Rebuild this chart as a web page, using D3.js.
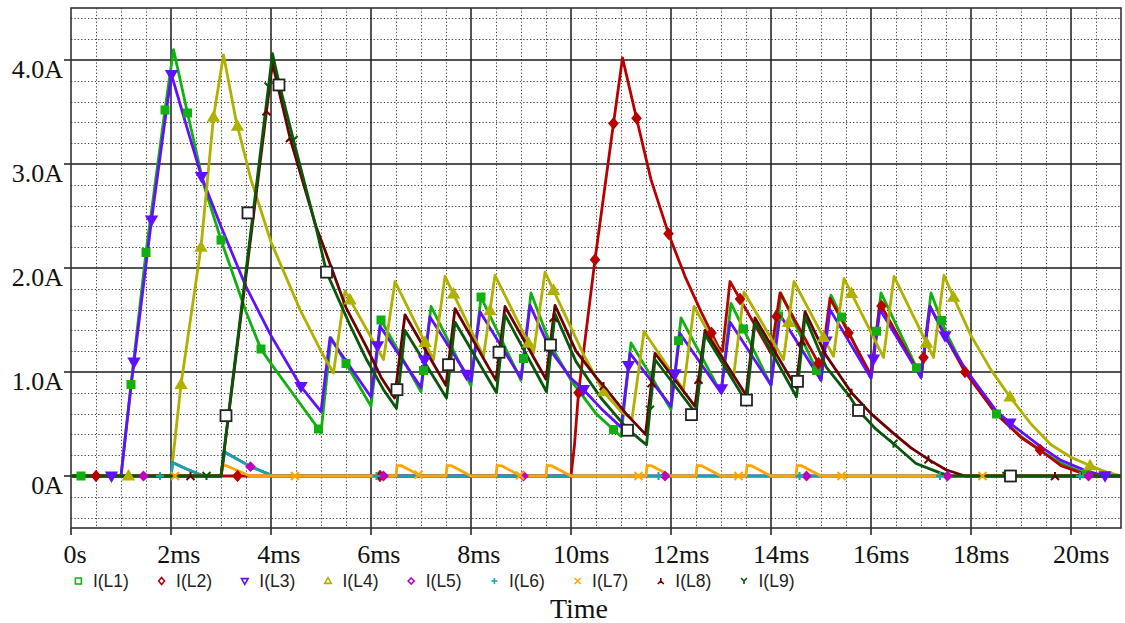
<!DOCTYPE html>
<html><head><meta charset="utf-8">
<script src="https://cdn.jsdelivr.net/npm/d3@7"></script>
<style>html,body{margin:0;padding:0;background:#fff;}svg{display:block}</style>
</head><body><svg id="c" width="1125" height="623"></svg>
<script>
// ---------- data (time in ms, current in A) ----------
const seriesNames = ["I(L1)","I(L2)","I(L3)","I(L4)","I(L5)","I(L6)","I(L7)","I(L8)","I(L9)"];
const seriesColors = ["#10b010","#b80000","#6010ff","#b0b000","#c000c0","#10a8a8","#ffa500","#6a0000","#0a560a"];
const xTickValues = [0,2,4,6,8,10,12,14,16,18,20];
const xTickLabels = ["0s","2ms","4ms","6ms","8ms","10ms","12ms","14ms","16ms","18ms","20ms"];
const yTickValues = [0,1,2,3,4];
const yTickLabels = ["0A","1.0A","2.0A","3.0A","4.0A"];

const L1 = [[0,0],[1.0,0],[1.2,0.88],[1.5,2.15],[1.88,3.52],[2.05,4.1],[2.33,3.49],[2.65,2.81],[3.0,2.27],[3.5,1.58],[3.8,1.22],[4.0,1.08],[4.5,0.75],[5.0,0.42],
  [5.2,1.33],[6.0,0.67],[6.2,1.5],[7.0,0.81],[7.2,1.63],[8.0,0.87],[8.2,1.72],[9.0,0.92],[9.2,1.76],[9.6,1.25],[10.0,0.92],[10.5,0.6],[11.0,0.38],
  [11.2,1.28],[12.0,0.64],[12.2,1.52],[13.0,0.8],[13.2,1.66],[14.0,0.87],[14.2,1.76],[15.0,0.92],[15.2,1.74],[16.0,0.94],[16.2,1.76],[17.0,0.95],[17.2,1.76],
  [17.5,1.38],[17.9,1.0],[18.5,0.6],[19.0,0.38],[19.4,0.24],[19.8,0.12],[20.2,0.04],[20.45,0],[21,0]];
const L2 = [[0,0],[10.0,0],[10.07,0.3],[10.15,0.8],[10.48,2.08],[10.85,3.39],[11.03,4.02],[11.31,3.44],[11.6,2.85],[11.95,2.33],[12.28,1.92],[12.6,1.58],[12.95,1.24],[13.03,1.2],
  [13.18,1.87],[14.0,1.18],[14.18,1.76],[15.0,1.04],[15.18,1.71],[16.0,0.97],[16.18,1.66],[17.0,0.95],[17.18,1.63],
  [17.5,1.33],[17.88,1.0],[18.5,0.6],[19.0,0.37],[19.38,0.25],[19.8,0.1],[20.2,0.03],[20.5,0],[21,0]];
const L3 = [[0,0],[1.0,0],[1.2,0.86],[1.61,2.46],[1.88,3.42],[2.01,3.86],[2.3,3.38],[2.61,2.88],[3.0,2.4],[3.5,1.82],[4.0,1.35],[4.6,0.86],[5.0,0.62],
  [5.18,1.33],[6.0,0.76],[6.18,1.44],[7.0,0.85],[7.18,1.53],[8.0,0.91],[8.18,1.58],[9.0,0.94],[9.18,1.64],[9.6,1.2],[10.0,0.94],[10.25,0.83],[10.6,0.65],[11.0,0.47],
  [11.18,1.18],[12.0,0.67],[12.18,1.37],[13.0,0.8],[13.18,1.48],[14.0,0.875],[14.18,1.55],[15.0,0.92],[15.18,1.6],[16.0,0.94],[16.18,1.6],[17.0,0.95],[17.18,1.63],
  [17.5,1.33],[17.9,1.02],[18.5,0.63],[18.8,0.5],[19.4,0.28],[19.8,0.15],[20.3,0.05],[20.7,0],[21,0]];
const L4 = [[0,0],[2.0,0],[2.2,0.88],[2.6,2.2],[2.85,3.45],[3.05,4.05],[3.3,3.42],[3.6,2.85],[4.0,2.25],[4.58,1.6],[5.0,1.2],[5.25,0.99],
  [5.48,1.78],[6.25,1.12],[6.48,1.87],[7.25,1.12],[7.48,1.92],[8.25,1.15],[8.48,1.93],[9.25,1.18],[9.48,1.96],[10.25,1.17],[10.65,0.81],[11.0,0.62],[11.22,0.55],
  [11.46,1.39],[12.25,0.83],[12.46,1.63],[13.25,0.95],[13.46,1.77],[14.25,1.12],[14.46,1.87],[15.25,1.15],[15.46,1.9],[16.25,1.14],[16.46,1.92],[17.25,1.14],[17.46,1.93],
  [17.65,1.72],[18.0,1.35],[18.4,1.02],[18.78,0.76],[19.2,0.5],[19.6,0.3],[20.0,0.18],[20.38,0.1],[20.7,0.04],[21,0]];
const L5 = [[0,0],[2.0,0],[2.03,0.13],[2.3,0.07],[2.65,0],[3.0,0],[3.07,0.23],[3.59,0.09],[4.05,0],[21,0]];
const L6 = [[0,0],[2.0,0],[2.03,0.13],[2.3,0.07],[2.65,0],[3.0,0],[3.07,0.23],[3.59,0.09],[4.05,0],[21,0]];
const L7 = [[0,0],[3.0,0],[3.05,0.11],[3.58,0],[6.5,0],[6.52,0.1],[6.6,0.1],[7.0,0],[7.5,0],[7.52,0.1],[7.6,0.1],[8.0,0],[8.5,0],[8.52,0.1],[8.6,0.1],[9.0,0],
  [9.5,0],[9.52,0.1],[9.6,0.1],[10.0,0],[11.5,0],[11.52,0.1],[11.6,0.1],[12.0,0],[12.5,0],[12.52,0.1],[12.6,0.1],[13.0,0],[13.5,0],[13.52,0.1],[13.6,0.1],[14.0,0],
  [14.5,0],[14.52,0.1],[14.6,0.1],[15.0,0],[21,0]];
const L8 = [[0,0],[3.0,0],[4.03,3.97],[4.38,3.25],[4.9,2.4],[5.08,2.17],[5.5,1.62],[5.91,1.24],[6.2,0.95],[6.47,0.75],
  [6.68,1.55],[7.5,0.87],[7.68,1.61],[8.5,0.92],[8.68,1.63],[9.5,0.93],[9.68,1.64],[10.1,1.2],[10.5,0.95],[10.71,0.83],[11.1,0.6],[11.49,0.4],
  [11.68,1.18],[12.48,0.67],[12.68,1.4],[13.5,0.78],[13.68,1.52],[14.5,0.85],[14.68,1.58],[15.1,1.16],[15.61,0.8],[16.0,0.6],[16.45,0.41],[16.8,0.27],[17.18,0.15],[17.5,0.06],[17.88,0],[21,0]];
const L9 = [[0,0],[3.0,0],[4.03,4.06],[4.16,3.78],[4.45,3.23],[4.91,2.37],[5.11,1.96],[5.58,1.45],[5.91,1.12],[6.25,0.83],[6.51,0.65],
  [6.68,1.4],[7.51,0.75],[7.68,1.48],[8.51,0.8],[8.68,1.55],[9.51,0.81],[9.68,1.56],[10.1,1.1],[10.6,0.75],[11.13,0.45],[11.51,0.3],
  [11.68,1.12],[12.5,0.6],[12.68,1.36],[13.51,0.71],[13.68,1.48],[14.51,0.76],[14.68,1.53],[15.1,1.05],[15.58,0.76],[15.75,0.63],[16.1,0.45],[16.45,0.31],[16.9,0.12],[17.38,0.03],[17.6,0],[21,0]];

// marker times on each trace (ms)
const M1 = [0.2,1.2,1.5,1.88,2.33,3.0,3.8,4.95,5.5,6.2,7.05,8.2,9.05,10.85,12.15,13.45,14.15,14.91,15.41,16.11,16.91,17.41,18.51,20.31];
const M2 = [0.5,3.33,6.18,10.15,10.48,10.85,11.31,11.95,12.81,13.38,14.11,14.95,15.55,16.21,17.05,17.88,19.38];
const M3 = [0.81,1.26,1.61,2.01,2.61,4.6,6.13,7.07,7.91,10.25,11.15,12.08,13.01,15.1,16.05,17.48,18.78,20.68];
const M4 = [1.15,2.2,2.6,2.85,3.33,5.58,7.08,7.65,8.38,9.15,9.65,10.65,14.35,15.05,15.61,17.11,17.65,18.78,20.38];
const M5 = [1.45,3.59,6.25,9.05,11.88,14.71,17.53,20.35];
const M6 = [1.78,6.11,11.75,14.57,17.38,20.18];
const M7 = [2.08,4.48,6.95,8.98,11.35,13.35,15.41,18.23];
const M8 = [2.39,3.91,4.38,7.55,9.65,10.65,11.61,12.55,14.61,15.61,17.15,19.68];
const M9 = [2.71,3.95,4.45,11.58,16.45,18.71];
// extra white square markers (t, I)
const whiteSquares = [[3.1,0.58],[3.54,2.53],[4.16,3.76],[5.11,1.96],[6.52,0.83],[7.55,1.07],[8.56,1.19],[9.59,1.26],[11.13,0.44],[12.41,0.59],[13.51,0.73],[14.53,0.91],[15.75,0.63],[18.79,0]];

const seriesData = [L1,L2,L3,L4,L5,L6,L7,L8,L9];
const markerTimes = [M1,M2,M3,M4,M5,M6,M7,M8,M9];
const markerKinds = ["square","diamond","tridown","triup","diamond2","plus","cross","invY","Y"];

// ---------- layout ----------
const plot = {l:71, r:1121, t:8, b:528};
const x = d3.scaleLinear().domain([0,21]).range([plot.l, plot.r]);
const y = d3.scaleLinear().domain([-0.5,4.5]).range([plot.b, plot.t]);
const svg = d3.select('#c');

svg.append('defs').append('clipPath').attr('id','clip').append('rect')
  .attr('x',plot.l).attr('y',plot.t).attr('width',plot.r-plot.l).attr('height',plot.b-plot.t);

// minor grid
const gMinor = svg.append('g').attr('stroke','#444').attr('stroke-width',1).attr('stroke-dasharray','1.3,2.1');
const minorX = d3.range(1,42).map(k=>k*0.5).filter(v=>Math.abs(v/2-Math.round(v/2))>1e-6);
gMinor.selectAll('line.mx').data(minorX).join('line').attr('class','mx')
  .attr('x1',d=>Math.round(x(d))+0.5).attr('x2',d=>Math.round(x(d))+0.5).attr('y1',plot.t).attr('y2',plot.b);
const minorY = d3.range(-2,23).filter(k=>k%5!==0).map(k=>k*0.2);
gMinor.selectAll('line.my').data(minorY).join('line').attr('class','my')
  .attr('x1',plot.l).attr('x2',plot.r).attr('y1',d=>Math.round(y(d))+0.5).attr('y2',d=>Math.round(y(d))+0.5);

// major grid
const gMajor = svg.append('g').attr('stroke','#1a1a1a').attr('stroke-width',1.5);
gMajor.selectAll('line.Mx').data(xTickValues.filter(v=>v>0)).join('line')
  .attr('x1',d=>x(d)).attr('x2',d=>x(d)).attr('y1',plot.t).attr('y2',plot.b+7);
gMajor.selectAll('line.My').data(yTickValues).join('line')
  .attr('x1',plot.l-7).attr('x2',plot.r).attr('y1',d=>y(d)).attr('y2',d=>y(d));
gMajor.append('line').attr('x1',plot.l).attr('x2',plot.l).attr('y1',plot.b).attr('y2',plot.b+7);

// frame
svg.append('rect').attr('x',plot.l).attr('y',plot.t).attr('width',plot.r-plot.l).attr('height',plot.b-plot.t)
  .attr('fill','none').attr('stroke','#333').attr('stroke-width',1.6);

// axis labels
svg.append('g').selectAll('text').data(yTickValues).join('text')
  .attr('x',63).attr('y',d=>y(d)+17.5).attr('text-anchor','end')
  .attr('font-family','"Liberation Serif","Times New Roman",serif').attr('font-size',26).attr('fill','#111')
  .text((d,i)=>yTickLabels[i]);
const xl = svg.append('g').selectAll('text').data(xTickValues).join('text')
  .attr('y',563).attr('font-family','"Liberation Serif","Times New Roman",serif').attr('font-size',26).attr('fill','#111')
  .text((d,i)=>xTickLabels[i]);
xl.each(function(d){ const w=this.getComputedTextLength(); d3.select(this).attr('x', x(d)-0.32*w); });
svg.append('text').attr('x',579).attr('y',618).attr('text-anchor','middle')
  .attr('font-family','"Liberation Serif","Times New Roman",serif').attr('font-size',28).attr('fill','#111').text('Time');

// marker path generator
function markerPath(kind, s){
  const h=s/2;
  switch(kind){
    case 'square': return `M${-h},${-h}H${h}V${h}H${-h}Z`;
    case 'diamond': return `M0,${-h*1.2}L${h},0L0,${h*1.2}L${-h},0Z`;
    case 'diamond2': return `M0,${-h}L${h},0L0,${h}L${-h},0Z`;
    case 'tridown': return `M${-h*1.1},${-h*0.8}H${h*1.1}L0,${h*1.1}Z`;
    case 'triup': return `M${-h*1.1},${h*0.8}H${h*1.1}L0,${-h*1.1}Z`;
    case 'plus': return `M${-h},0H${h}M0,${-h}V${h}`;
    case 'cross': return `M${-h},${-h}L${h},${h}M${-h},${h}L${h},${-h}`;
    case 'invY': return `M0,${-h}V0M0,0L${-h},${h}M0,0L${h},${h}`;
    case 'Y': return `M${-h},${-h}L0,0L${h},${-h}M0,0V${h}`;
  }
}
function interp(data,t){
  for(let i=1;i<data.length;i++){
    if(t<=data[i][0]){ const a=data[i-1],b=data[i]; const f=(t-a[0])/(b[0]-a[0]||1); return a[1]+f*(b[1]-a[1]); }
  }
  return data[data.length-1][1];
}

// traces
const line = d3.line().x(d=>x(d[0])).y(d=>y(d[1]));
const gTr = svg.append('g').attr('clip-path','url(#clip)');
seriesData.forEach((data,i)=>{
  gTr.append('path').attr('d',line(data)).attr('fill','none').attr('stroke',seriesColors[i])
    .attr('stroke-width',2.8).attr('stroke-linejoin','round');
});
seriesData.forEach((data,i)=>{
  const kind=markerKinds[i];
  const filled = ['square','diamond','tridown','triup','diamond2'].includes(kind);
  gTr.append('g').selectAll('path').data(markerTimes[i]).join('path')
    .attr('transform',t=>`translate(${x(t)},${y(interp(data,t))})`)
    .attr('d',markerPath(kind, kind==='square'?7:(kind==='tridown'||kind==='triup')?9:8))
    .attr('fill',filled?seriesColors[i]:'none').attr('stroke',seriesColors[i]).attr('stroke-width',2);
});
gTr.append('g').selectAll('rect').data(whiteSquares).join('rect')
  .attr('x',d=>x(d[0])-5.5).attr('y',d=>y(d[1])-5.5).attr('width',11).attr('height',11)
  .attr('fill','#fff').attr('stroke','#222').attr('stroke-width',1.8);

// legend
const lg = svg.append('g');
seriesNames.forEach((n,i)=>{
  const mx = 78.4 + 83.2*i;
  lg.append('path').attr('transform',`translate(${mx},581)`).attr('d',markerPath(markerKinds[i],6))
    .attr('fill','none').attr('stroke',seriesColors[i]).attr('stroke-width',1.6);
  lg.append('text').attr('x',mx+14.5).attr('y',587).attr('font-family','"Liberation Sans",Arial,sans-serif')
    .attr('font-size',17.5).attr('fill','#222').text(n);
});
</script></body></html>
